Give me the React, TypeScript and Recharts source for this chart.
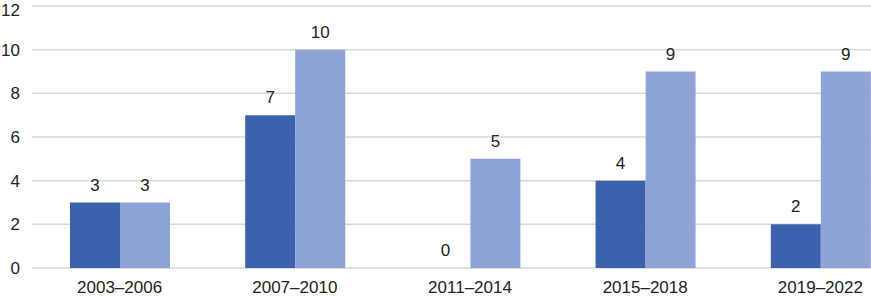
import { BarChart, Bar, XAxis, YAxis, CartesianGrid, LabelList } from "recharts";

const periods = ["2003–2006", "2007–2010", "2011–2014", "2015–2018", "2019–2022"];
const darkValues = [3, 7, 0, 4, 2];
const lightValues = [3, 10, 5, 9, 9];
const yTicks = [0, 2, 4, 6, 8, 10, 12];

const FONT = "'Liberation Sans', Arial, sans-serif";
const TEXT = "#222";

// a zero bar still needs its "0" label above the axis
const keepZero = (v: number) => (v === 0 ? 0.01 : 0);

export default function App() {
  const data = periods.map((p, i) => ({
    period: p,
    dark: darkValues[i],
    light: lightValues[i],
  }));

  return (
    <div
      style={{
        position: "absolute",
        left: 0,
        top: 0,
        width: 871,
        height: 297,
        overflow: "hidden",
        background: "#fff",
        fontFamily: FONT,
      }}
    >
      <BarChart
        width={908}
        height={297}
        data={data}
        margin={{ top: 6, right: 0, bottom: 0, left: 0 }}
        barGap={0}
      >
        <CartesianGrid vertical={false} stroke="#d9d9d9" strokeWidth={1.5} />
        <XAxis
          dataKey="period"
          axisLine={false}
          tickLine={false}
          tickSize={0}
          tickMargin={13}
          height={29}
          interval={0}
          tick={{ fontSize: 17, fill: TEXT, fontFamily: FONT }}
        />
        <YAxis
          domain={[0, 12]}
          ticks={yTicks}
          axisLine={false}
          tickLine={false}
          tickSize={0}
          tickMargin={12}
          width={32}
          tick={{ fontSize: 17, fill: TEXT, fontFamily: FONT }}
        />
        <Bar
          dataKey="dark"
          fill="#3c62ad"
          barSize={50}
          minPointSize={keepZero}
          isAnimationActive={false}
        >
          <LabelList
            dataKey="dark"
            position="top"
            offset={12}
            style={{ fontSize: 17, fill: TEXT, fontFamily: FONT }}
          />
        </Bar>
        <Bar dataKey="light" fill="#8fa4d6" barSize={50} isAnimationActive={false}>
          <LabelList
            dataKey="light"
            position="top"
            offset={12}
            style={{ fontSize: 17, fill: TEXT, fontFamily: FONT }}
          />
        </Bar>
      </BarChart>
    </div>
  );
}
